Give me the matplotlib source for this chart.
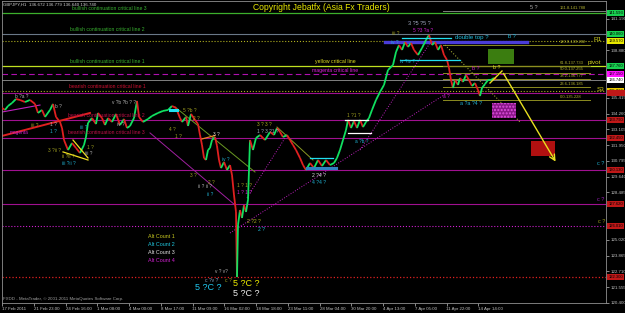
import numpy as np
import matplotlib
matplotlib.use('Agg')
import matplotlib.pyplot as plt
import matplotlib.transforms as mtransforms
from matplotlib.patches import Rectangle

plt.rcParams['font.family'] = ['Liberation Sans', 'DejaVu Sans']

# GBPJPY H1, about 2 bars per screen pixel
bar_idx = [0, 6, 12, 20, 28, 36, 46, 56, 66, 72, 80, 86, 96, 102, 108, 116, 120, 124,
           132, 140, 148, 156, 164, 168, 172, 180, 188, 192, 200, 206, 212, 220, 228,
           236, 244, 250, 256, 264, 270, 274, 282, 292, 300, 312, 322, 332, 340, 348,
           356, 360, 368, 372, 378, 386, 392, 396, 400, 404, 408, 412, 416, 420, 426,
           430, 434, 438, 444, 450, 456, 460, 464, 468, 470, 472, 476, 480, 484, 488,
           492, 496, 502, 508, 516, 526, 536, 544, 550, 556, 562, 570, 576, 582, 588,
           596, 602, 608, 616, 624, 632, 640, 648, 656, 664, 670, 676, 682, 688, 692,
           698, 704, 710, 716, 722, 728, 734, 740, 748, 756, 764, 772, 782, 788, 794,
           800, 806, 812, 818, 824, 832, 840, 848, 854, 860, 866, 872, 878, 884, 890,
           894, 898, 902, 906, 912, 916, 922, 928, 934, 940, 946, 952, 956, 960, 966,
           972, 978, 984, 988]
close = [134.67, 134.52, 134.81, 135.03, 135.32, 135.25, 135.10, 135.25, 134.96, 134.30,
         134.52, 134.01, 134.52, 134.96, 134.01, 133.64, 133.20, 132.32, 131.59, 132.10,
         131.74, 131.37, 131.96, 132.54, 133.57, 133.93, 133.49, 134.30, 133.93, 133.42,
         133.93, 133.64, 134.23, 133.42, 133.86, 133.20, 133.35, 133.93, 135.18, 134.01,
         133.64, 133.86, 134.08, 134.30, 134.45, 134.52, 134.81, 134.67, 133.93, 133.64,
         134.01, 133.35, 134.23, 133.79, 133.49, 132.69, 131.96, 131.01, 130.86, 131.59,
         131.74, 132.32, 132.54, 131.89, 130.86, 130.27, 130.72, 130.13, 130.49, 129.76,
         128.30, 127.06, 122.30, 126.11, 127.20, 126.62, 127.57, 127.06, 127.94, 132.32,
         131.59, 132.47, 132.69, 132.32, 132.91, 132.69, 133.20, 132.91, 132.54, 132.69,
         132.32, 131.96, 131.59, 131.01, 130.49, 130.13, 130.64, 130.27, 130.86, 130.42,
         130.86, 130.49, 130.64, 131.01, 131.59, 132.32, 133.05, 133.79, 133.20, 133.71,
         133.20, 133.79, 133.27, 133.64, 133.93, 134.52, 135.25, 135.83, 136.35, 137.44,
         137.81, 138.76, 139.27, 138.91, 139.49, 139.13, 139.42, 138.91, 138.54, 139.05,
         139.64, 140.01, 139.27, 139.49, 138.91, 139.27, 138.54, 138.18, 137.59, 136.71,
         136.13, 136.71, 136.35, 136.86, 136.57, 137.08, 136.71, 136.27, 136.49, 135.98,
         135.54, 136.13, 136.42, 136.71, 136.71, 136.86, 136.74]

time_labels = ['17 Feb 2011', '21 Feb 23:00', '24 Feb 16:00', '1 Mar 08:00', '4 Mar 00:00',
               '8 Mar 17:00', '11 Mar 09:00', '16 Mar 02:00', '18 Mar 18:00', '23 Mar 11:00',
               '28 Mar 04:00', '30 Mar 20:00', '4 Apr 13:00', '7 Apr 05:00', '11 Apr 22:00',
               '14 Apr 14:00']
bars_per_label = 63.5
price_ticks = 120.400 + 1.155 * np.arange(19)

# horizontal levels: price, line colour, style, width, price box colour, box has text
levels = [
    (141.593, '#3cb02c', '-', 0.9, '#18d050', True),
    (140.060, '#6a7888', '-', 0.8, '#18d050', True),
    (139.570, '#b0b020', ':', 0.8, '#e8e800', True),
    (137.760, '#c0e020', '-', 0.9, '#18d050', True),
    (137.150, '#b010b0', (0, (5, 3)), 0.8, '#ff10ff', True),
    (136.740, '#808080', '-', 0.7, '#ffffff', True),
    (135.930, '#b0b020', ':', 0.8, '#e8c800', True),
    (135.760, '#a01090', '-', 0.8, '#c01818', False),
    (133.790, '#a01090', '-', 0.8, '#c01818', True),
    (132.450, '#a01090', '-', 0.8, '#c01818', True),
    (130.130, '#a01090', '-', 0.8, '#c01818', True),
    (127.620, '#a01090', '-', 0.8, '#c01818', True),
    (126.010, '#d020d0', ':', 0.8, '#c01818', True),
    (122.300, '#e02020', ':', 0.9, '#c01818', True),
]

fib_names = ['161.8', '100.0', '61.8', '50.0', '38.2', '23.6', '0.0']
fib_values = [141.788, 139.282, 137.733, 137.255, 136.777, 136.185, 135.228]

fig = plt.figure(figsize=(6.25, 3.13), dpi=100, facecolor='black')
ax = fig.add_axes([2 / 625, 10 / 313, 604 / 625, 302 / 313])
ax.set_facecolor('black')
ax.set_xlim(0, 1208)
ax.set_ylim(120.40, 142.49)

for p, col, ls, lw, box, has_text in levels:
    ax.axhline(p, color=col, ls=ls, lw=lw, zorder=1)

# fib ladder
for name, v in zip(fib_names, fib_values):
    col = '#808080' if name == '161.8' else '#8c8c20'
    ax.plot([882, 1208 if name == '161.8' else 1176], [v, v], color=col, lw=0.7, zorder=1)
    ax.text(1116, v + 0.08, '%s-%.3f' % (name, v), color='#b0b030', fontsize=3.0, va='bottom', zorder=4)

# trend lines
ax.plot([456, 890], [125.52, 135.76], color='#c020c0', lw=0.7, ls=':', zorder=2)
ax.plot([296, 466], [132.84, 127.57], color='#a020a0', lw=0.7, zorder=2)
ax.plot([716, 860], [131.59, 139.64], color='#c020c0', lw=0.7, ls=':', zorder=2)
ax.plot([490, 570], [128.10, 132.70], color='#c020c0', lw=0.7, ls=':', zorder=2)
ax.plot([346, 506], [134.74, 129.98], color='#6b9a23', lw=0.7, zorder=2)
ax.plot([550, 622], [133.27, 130.86], color='#8a9a23', lw=0.7, zorder=2)
ax.plot([886, 1036], [139.27, 133.64], color='#9aa030', lw=0.8, ls=':', zorder=2)
ax.plot([0, 176], [132.62, 134.30], color='#e02020', lw=1.4, zorder=2)
ax.plot([0, 76], [134.37, 134.88], color='#c020c0', lw=0.8, zorder=2)
ax.plot([142, 172], [132.32, 131.01], color='#f0e020', lw=0.9, zorder=4)
ax.plot([122, 172], [131.45, 130.86], color='#f0e020', lw=0.9, zorder=4)
ax.plot([400, 426], [132.40, 132.65], color='#f08020', lw=0.9, zorder=4)
ax.plot([686, 732], [133.79, 133.79], color='white', lw=0.9, zorder=4)
ax.plot([692, 738], [132.84, 132.84], color='white', lw=0.9, zorder=4)
ax.plot([616, 662], [131.01, 131.01], color='#20e0f0', lw=0.9, zorder=4)
ax.plot([610, 668], [130.27, 130.27], color='#3080c0', lw=2.2, zorder=4)
ax.plot([336, 350], [134.52, 134.52], color='#20e0f0', lw=2.2, zorder=4)
ax.plot([766, 1050], [139.52, 139.52], color='#4a3cd8', lw=2.4, zorder=2)
ax.plot([800, 898], [139.75, 139.75], color='#20e0f0', lw=0.9, zorder=4)
ax.plot([796, 916], [138.18, 138.18], color='#20e0f0', lw=0.9, zorder=4)

# zones and projected path
ax.add_patch(Rectangle((972, 137.88), 52, 1.10, fc='#3b7d10', ec='none', zorder=3))
ax.add_patch(Rectangle((980, 133.93), 48, 1.10, fc='#8a1888', ec='#e050e0', lw=0,
                       hatch='.....', zorder=3))
ax.add_patch(Rectangle((1058, 131.15), 48, 1.10, fc='#b01010', ec='none', zorder=3))
ax.plot([976, 1000], [136.49, 137.37], color='#e8e020', lw=1.0, zorder=4)
ax.annotate('', xy=(1110, 130.57), xytext=(1000, 137.37),
            arrowprops=dict(arrowstyle='->', color='#e8e020', lw=1.0), zorder=4)

# price path, green up / red down
for i in range(len(close) - 1):
    col = '#10e060' if close[i + 1] >= close[i] else '#e02020'
    ax.plot(bar_idx[i:i + 2], close[i:i + 2], color=col, lw=1.3, zorder=3,
            solid_capstyle='butt')

headers = [
    ('bullish continuation critical line 3', 140, 141.91, '#38b030'),
    ('bullish continuation critical line 2', 136, 140.37, '#38b030'),
    ('bullish continuation critical line 1', 136, 138.03, '#38b030'),
    ('bearish continuation critical line 1', 134, 136.20, '#d01030'),
    ('bearish continuation critical line 2', 132, 134.15, '#c01048'),
    ('bearish continuation critical line 3', 132, 132.84, '#c01048'),
    ('yellow critical line', 626, 138.10, '#e0e020'),
    ('magenta critical line', 620, 137.37, '#e020e0'),
]
for txt, x, y, col in headers:
    ax.text(x, y, txt, color=col, fontsize=3.7, va='center', zorder=5)
ax.text(502, 141.98, 'Copyright Jebatfx (Asia Fx Traders)', color='#e8e800', fontsize=6.2,
        va='center', zorder=5)

waves = [
    ('b ?a ?', 26, 135.47, '#b0b0b0', 3.4), ('b ?', 106, 134.74, '#b0b0b0', 3.4),
    ('iii ?', 58, 133.35, '#a0a020', 3.4), ('1 ?', 96, 133.42, '#b0b0b0', 3.4),
    ('1 ?', 96, 132.91, '#20b0d0', 3.4), ('3 ?ii ?', 92, 131.52, '#a0a020', 3.4),
    ('ii ?ii ?', 120, 131.08, '#b0b020', 3.4), ('iii ?ii ?', 120, 130.64, '#20b0d0', 3.4),
    ('iii ?', 156, 133.27, '#20b0d0', 3.4), ('1 ?', 170, 131.81, '#a0a020', 3.4),
    ('iii ?', 166, 131.37, '#b0b0b0', 3.4), ('v ?b ?b ? ?', 220, 135.03, '#b0b0b0', 3.4),
    ('iv ?', 230, 133.45, '#b0b0b0', 3.4), ('4 ?', 334, 133.10, '#a0a020', 3.4),
    ('5 ?b ?', 362, 134.45, '#a0a020', 3.4), ('1 ?', 346, 132.60, '#a0a020', 3.4),
    ('2 ?', 382, 133.86, '#a0a020', 3.4), ('3 ?', 422, 132.76, '#e0e0e0', 3.4),
    ('iv ?', 440, 130.93, '#20b0d0', 3.4), ('3 ?', 376, 129.76, '#a0a020', 3.4),
    ('ii ? ii ?', 392, 128.89, '#b0b0b0', 3.4), ('ii ?', 410, 128.37, '#20b0d0', 3.4),
    ('2 ?', 412, 129.25, '#a0a020', 3.4), ('1 ? 1 ?', 470, 129.03, '#a0a020', 3.4),
    ('1 ? 1 ?', 470, 128.45, '#d020d0', 3.4), ('2 ?2 ?', 490, 126.33, '#b0b020', 3.6),
    ('2 ?', 512, 125.74, '#20c0e0', 3.6), ('v ? v?', 426, 122.67, '#b0b0b0', 3.4),
    ('c ?v ?', 406, 122.08, '#80a0c0', 3.6), ('c ?', 446, 122.08, '#a0a020', 3.6),
    ('5 ?C ?', 386, 121.50, '#20c8f0', 6.5), ('5 ?C ?', 462, 121.86, '#f0f000', 6.5),
    ('5 ?C ?', 462, 121.06, '#f0f0f0', 6.5),
    ('3 ? 3 ?', 510, 133.49, '#b0b020', 3.4), ('1 ? 3 ?1 ?', 510, 132.91, '#a0b0c0', 3.4),
    ('2 ?4 ?', 620, 129.76, '#e0e0e0', 3.6), ('4 ?4 ?', 620, 129.18, '#20b0d0', 3.6),
    ('1 ?1 ?', 690, 134.08, '#a0a020', 3.4), ('a ?b ?', 706, 132.18, '#20b0d0', 3.4),
    ('iii ?', 780, 140.08, '#a0a020', 3.4), ('iv ?', 778, 139.42, '#20b0d0', 3.4),
    ('3 ?5 ?5 ?', 812, 140.88, '#a0a8c0', 4.0), ('5 ?3 ?a ?', 822, 140.30, '#d020d0', 3.4),
    ('iv ?iv ?', 796, 138.10, '#20b0d0', 3.4), ('double top ?', 906, 139.79, '#20c0e0', 4.4),
    ('b ?', 1012, 139.86, '#20c0e0', 4.0), ('b ?', 940, 137.52, '#d020d0', 3.8),
    ('b ?', 982, 137.59, '#e0e020', 3.8), ('a ?a ?4 ?', 916, 134.96, '#20b0d0', 3.8),
    ('a ?', 882, 135.47, '#d020d0', 3.4), ('5 ?', 1056, 141.98, '#b0b0b0', 4.0),
    ('c ?', 1190, 130.64, '#20b0d0', 4.0), ('c ?', 1190, 127.94, '#a020c0', 4.0),
    ('c ?', 1192, 126.33, '#a0a020', 4.0), ('magenta', 16, 132.84, '#d020d0', 3.4),
    ('R1', 1184, 139.71, '#d0d020', 4.6), ('pivot', 1172, 137.96, '#d0d020', 4.6),
    ('S3', 1190, 136.05, '#d0d020', 4.6),
]
for txt, x, y, col, fs in waves:
    ax.text(x, y, txt, color=col, fontsize=fs, va='center', zorder=5)

alt_counts = ['Alt Count 1', 'Alt Count 2', 'Alt Count 3', 'Alt Count 4']
alt_colors = ['#c8c820', '#20c8e0', '#e0e0e0', '#d020d0']
for k, (txt, col) in enumerate(zip(alt_counts, alt_colors)):
    ax.text(292, 125.30 - k * 0.60, txt, color=col, fontsize=3.9, va='center', zorder=5)

# axes styling like the terminal
for s in ax.spines.values():
    s.set_color('#909090')
    s.set_linewidth(0.6)
ax.set_xticks(np.arange(len(time_labels)) * bars_per_label)
ax.set_xticklabels(time_labels)
for lbl in ax.get_xticklabels():
    lbl.set_ha('left')
ax.tick_params(axis='x', colors='#c0c0c0', labelsize=3.2, length=2, width=0.5, pad=1)

# the terminal hides scale labels that sit under a price box
level_prices = np.array([lv[0] for lv in levels])
shown = [t for t in price_ticks if np.abs(level_prices - t).min() > 0.3]
ax.yaxis.tick_right()
ax.set_yticks(shown)
ax.set_yticklabels(['%.3f' % t for t in shown])
ax.tick_params(axis='y', colors='#c0c0c0', labelsize=3.2, length=2, width=0.5, pad=1)

trans = mtransforms.blended_transform_factory(ax.transAxes, ax.transData)
for p, col, ls, lw, box, has_text in levels:
    if has_text:
        ax.text(1.004, p, '%.3f' % p, transform=trans, fontsize=3.0, color='black',
                va='center', ha='left', clip_on=False, zorder=6,
                bbox=dict(boxstyle='square,pad=0.25', fc=box, ec='none'))
    else:
        ax.add_patch(Rectangle((1.002, p - 0.22), 0.04, 0.44, transform=trans, fc=box,
                               ec='none', clip_on=False, zorder=6))

fig.text(3 / 625, 1 - 5 / 313, 'GBPJPY,H1  136.672 136.779 136.640 136.740', color='#d0d0d0',
         fontsize=3.2, va='center')
fig.text(3 / 625, 1 - 299 / 313, 'FXDD - MetaTrader, \u00a9 2001-2011 MetaQuotes Software Corp.',
         color='#a0a0a0', fontsize=3.2, va='center')

fig.savefig('out.png', dpi=100, facecolor='black')
